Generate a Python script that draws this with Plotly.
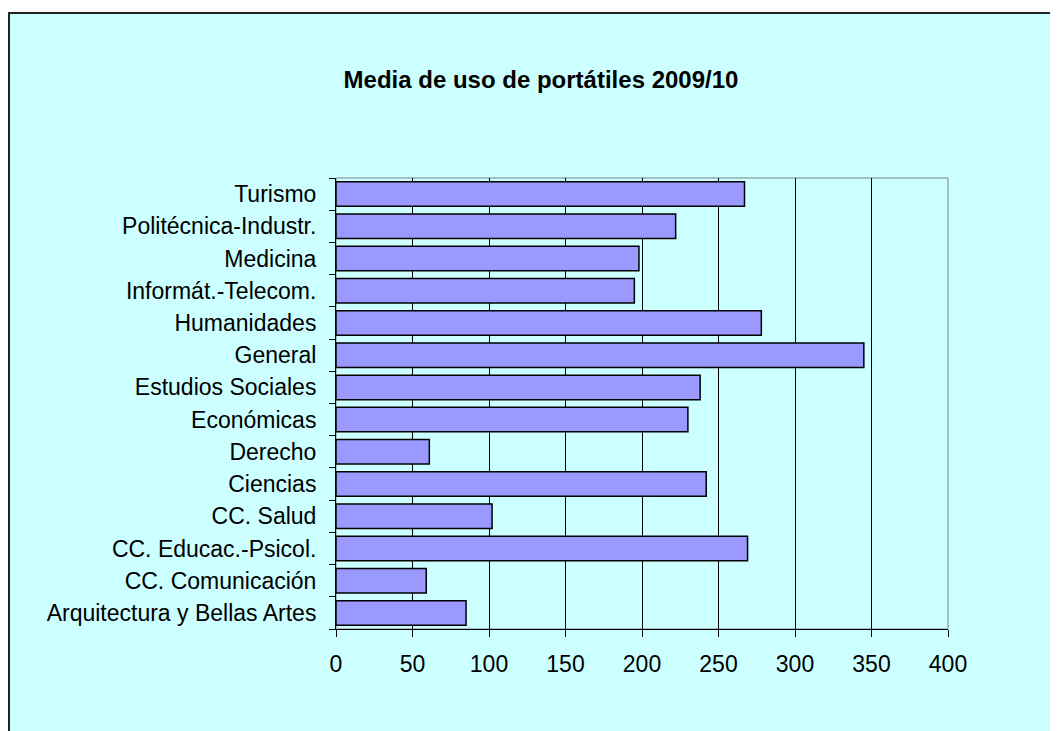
import plotly.graph_objects as go

categories = [
    "Arquitectura y Bellas Artes",
    "CC. Comunicación",
    "CC. Educac.-Psicol.",
    "CC. Salud",
    "Ciencias",
    "Derecho",
    "Económicas",
    "Estudios Sociales",
    "General",
    "Humanidades",
    "Informát.-Telecom.",
    "Medicina",
    "Politécnica-Industr.",
    "Turismo",
]
values = [85, 59, 269, 102, 242, 61, 230, 238, 345, 278, 195, 198, 222, 267]
x_ticks = [0, 50, 100, 150, 200, 250, 300, 350, 400]

W, H = 1058, 731
ML, MR, MT, MB = 328, 118, 170, 110
PW, PH = W - ML - MR, H - MT - MB


def px_x(p):
    return (p - ML) / PW


def px_y(p):
    return 1 - (p - MT) / PH


fig = go.Figure(
    go.Bar(
        y=categories,
        x=values,
        orientation="h",
        marker=dict(color="#9999FF", line=dict(color="#000000", width=1.5)),
        width=0.76,
    )
)

font = "Liberation Sans, Arial, sans-serif"

fig.update_layout(
    width=W,
    height=H,
    margin=dict(l=ML, r=MR, t=MT, b=MB, pad=0),
    paper_bgcolor="#FFFFFF",
    plot_bgcolor="#FFFFCC",
    showlegend=False,
    font=dict(family=font, size=23, color="#000000"),
    title=dict(
        text="<b>Media de uso de portátiles 2009/10</b>",
        x=533 / W,
        xanchor="center",
        y=1 - 72 / H,
        yanchor="middle",
        font=dict(family=font, size=24, color="#000000"),
    ),
    xaxis=dict(
        range=[0, 400],
        tickvals=x_ticks,
        ticktext=[str(v) for v in x_ticks],
        showgrid=True,
        gridcolor="#000000",
        gridwidth=1,
        zeroline=False,
        showline=True,
        linecolor="#000000",
        linewidth=1,
        ticks="outside",
        ticklen=7,
        tickcolor="#000000",
        ticklabelstandoff=7,
        tickfont=dict(size=23),
        fixedrange=True,
    ),
    yaxis=dict(
        categoryorder="array",
        categoryarray=categories,
        showgrid=False,
        zeroline=False,
        showline=True,
        linecolor="#000000",
        linewidth=1,
        ticks="outside",
        ticklen=6,
        tickcolor="#000000",
        tickson="boundaries",
        ticklabelstandoff=14,
        tickfont=dict(size=23),
        range=[-0.5, len(categories) - 0.5],
        fixedrange=True,
    ),
    shapes=[
        dict(
            type="rect",
            xref="paper",
            yref="paper",
            x0=px_x(1),
            x1=px_x(W + 20),
            y0=px_y(H + 20),
            y1=px_y(5),
            fillcolor="#CCFFFF",
            line=dict(color="#222222", width=2),
            layer="below",
        ),
        dict(
            type="rect",
            xref="paper",
            yref="paper",
            x0=0,
            x1=1,
            y0=0,
            y1=1,
            line=dict(color="#808080", width=1),
            layer="below",
        ),
    ],
)

fig.write_html("out.html")
